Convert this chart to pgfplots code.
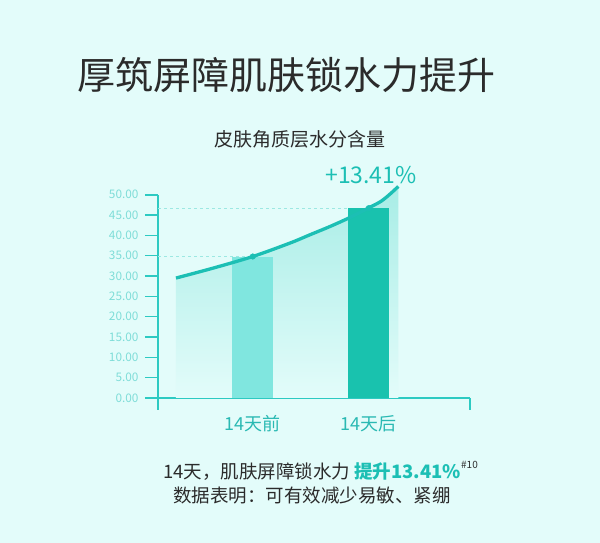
\documentclass[border=0pt]{standalone}
\usepackage{pgfplots}
\pgfplotsset{compat=1.18}
\usepackage{fontspec}
\setmainfont{Noto Sans CJK SC}
\definecolor{bgc}{HTML}{E3FCFA}
\definecolor{titlec}{HTML}{2B2B2B}
\definecolor{curvec}{HTML}{1CBFB4}
\definecolor{bara}{HTML}{80E6DF}
\definecolor{barb}{HTML}{19C2AE}
\definecolor{axisc}{HTML}{2DCAC2}
\definecolor{ticklc}{HTML}{7FDDD8}
\definecolor{xlabc}{HTML}{2AB9B3}
\definecolor{dashc}{HTML}{9DE8E2}
\definecolor{areatop}{HTML}{A8EDE6}
\begin{document}
\begin{tikzpicture}[x=1pt,y=1pt]
\fill[bgc] (0,0) rectangle (600,543);
\node[anchor=west, inner sep=0, text=titlec, font=\fontsize{38}{40}\selectfont] at (77,468) {厚筑屏障肌肤锁水力提升};
\node[inner sep=0, text=titlec, font=\fontsize{19}{21}\selectfont] at (300,403.5) {皮肤角质层水分含量};
\node[inner sep=0, text=curvec, font=\fontsize{23}{25}\selectfont] at (371,368) {+13.41\%};
\node[anchor=west, inner sep=0, text=titlec, font=\fontsize{18.5}{20}\selectfont] at (163,72) {14天，肌肤屏障锁水力\ {\color{curvec}\bfseries 提升13.41\%}\raisebox{0.55em}{\fontsize{10}{10}\selectfont\#10}};
\node[anchor=west, inner sep=0, text=titlec, font=\fontsize{18.5}{20}\selectfont] at (173,47) {数据表明：可有效减少易敏、紧绷};
\begin{axis}[
  at={(158pt,145pt)}, anchor=south west,
  scale only axis, width=312pt, height=203.3pt,
  xmin=-0.817, xmax=1.872, ymin=0, ymax=50,
  axis y line*=left, axis x line*=bottom,
  axis line style={axisc, line width=2pt},
  clip=false,
  ytick={0,5,...,50},
  tick align=outside,
  major tick length=13pt,
  ytick style={axisc, line width=1.6pt},
  xtick={0,1}, xticklabels={14天前,14天后},
  xtick style={draw=none},
  /pgf/number format/assume math mode=true,
  yticklabel style={/pgf/number format/.cd, fixed, fixed zerofill, precision=2, /tikz/.cd, font=\fontsize{11.8}{12}\selectfont, text=ticklc, xshift=-3pt},
  xticklabel style={font=\fontsize{18}{19}\selectfont, text=xlabc, yshift=-1pt},
]
\addplot[draw=none, top color=areatop, bottom color=bgc, smooth] coordinates {
 (-0.662,29.5) (-0.34,31.96) (0,34.8) (0.321,38.11) (0.493,40.15) (0.666,42.19) (0.838,44.41) (0.996,46.72) (1.103,48.34) (1.183,50.16) (1.254,52.03)
} \closedcycle;
\addplot[dashc, dashed, line width=0.8pt] coordinates {(-0.817,34.8) (0,34.8)};
\addplot[dashc, dashed, line width=0.8pt] coordinates {(-0.817,46.7) (1,46.7)};
\addplot[ybar, bar width=41pt, bar shift=0pt, fill=bara, draw=none] coordinates {(0,34.67)};
\addplot[ybar, bar width=41pt, bar shift=0pt, fill=barb, draw=none] coordinates {(1,46.7)};
\addplot[curvec, line width=3.3pt, smooth] coordinates {
 (-0.662,29.5) (-0.34,31.96) (0,34.8) (0.321,38.11) (0.493,40.15) (0.666,42.19) (0.838,44.41) (0.996,46.72) (1.103,48.34) (1.183,50.16) (1.254,52.03)
};
\addplot[only marks, mark=*, mark size=2.8pt, curvec] coordinates {(0,34.8) (1,46.7)};
\draw[axisc, line width=2pt] (axis cs:-0.817,0) -- (axis cs:-0.817,-2.95);
\draw[axisc, line width=2pt] (axis cs:1.872,0) -- (axis cs:1.872,-2.95);
\end{axis}
\end{tikzpicture}
\end{document}
